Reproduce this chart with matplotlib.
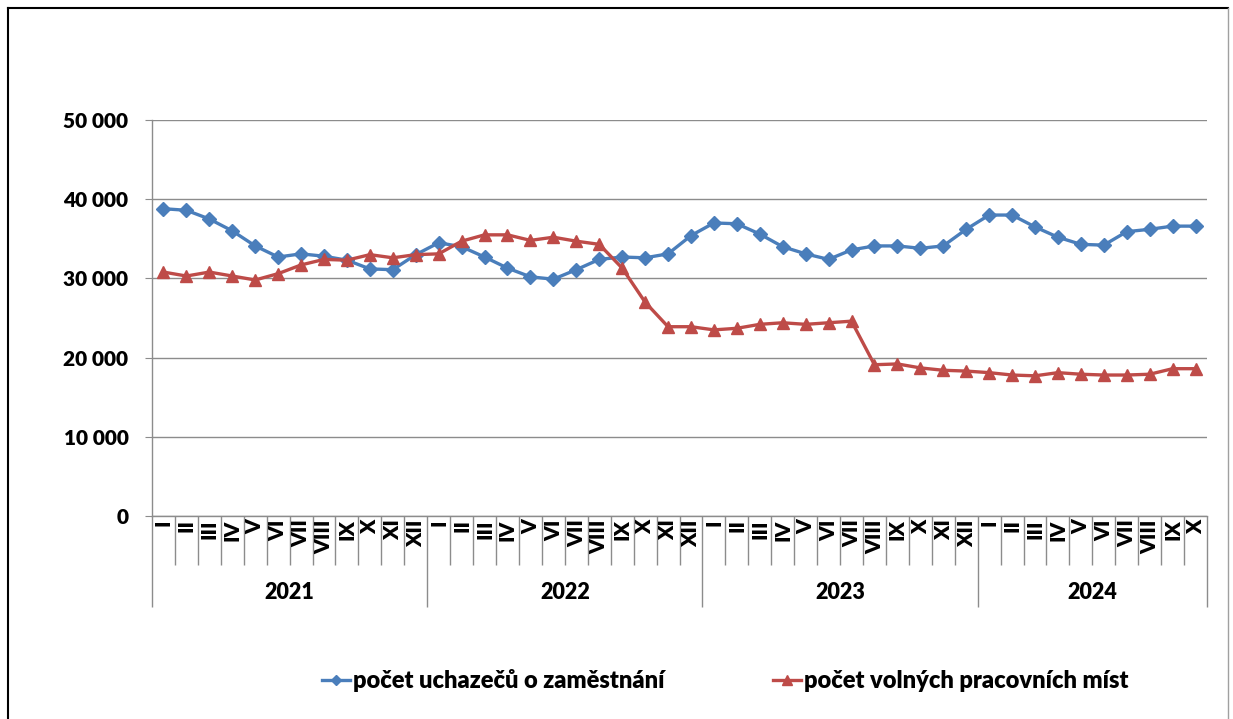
import matplotlib
matplotlib.use("Agg")
import matplotlib.pyplot as plt
from matplotlib.lines import Line2D
from matplotlib.ticker import FuncFormatter, FixedLocator
import numpy as np

plt.rcParams['font.family'] = ['Lato', 'DejaVu Sans']

years = ["2021", "2022", "2023", "2024"]
months_per_year = [12, 12, 12, 10]
month_names = ["I", "II", "III", "IV", "V", "VI", "VII", "VIII", "IX", "X", "XI", "XII"]

uchazeci = [38800, 38600, 37500, 36000, 34100, 32700, 33100, 32800, 32300, 31200, 31100, 33000,
            34500, 34000, 32700, 31300, 30200, 29900, 31100, 32400, 32700, 32600, 33100, 35400,
            37000, 36900, 35600, 34000, 33100, 32400, 33600, 34100, 34100, 33800, 34100, 36200,
            38000, 38000, 36500, 35200, 34300, 34200, 35900, 36200, 36600, 36600]
volna_mista = [30800, 30300, 30800, 30300, 29800, 30600, 31700, 32400, 32300, 33000, 32600, 33000,
               33100, 34700, 35500, 35500, 34800, 35200, 34700, 34300, 31300, 27000, 23900, 23900,
               23500, 23700, 24200, 24400, 24200, 24400, 24600, 19100, 19200, 18700, 18400, 18300,
               18100, 17800, 17700, 18100, 17900, 17800, 17800, 17900, 18600, 18600]

labels_series = ["počet uchazečů o zaměstnání", "počet volných pracovních míst"]

blue = "#4A7EBB"
red = "#BE4B48"
grey = "#8C8C8C"
W = 'heavy'

fig = plt.figure(figsize=(12.33, 7.19), dpi=100)
ax = fig.add_axes([152/1233, 1-516/719, (1207-152)/1233, (516-120)/719])

n = len(uchazeci)
x = np.arange(n)
ax.plot(x, uchazeci, color=blue, lw=2.4, marker='D', markersize=7, label=labels_series[0])
ax.plot(x, volna_mista, color=red, lw=2.4, marker='^', markersize=9, label=labels_series[1])

ax.set_xlim(-0.5, n - 0.5)
ax.set_ylim(0, 50000)
ax.set_yticks(np.arange(0, 50001, 10000))
ax.yaxis.set_major_formatter(FuncFormatter(lambda v, p: f"{int(v):,}".replace(",", " ")))
for lab in ax.get_yticklabels():
    lab.set_fontweight(W)
ax.tick_params(axis='y', length=5, color=grey, labelsize=15, pad=12)
ax.yaxis.grid(True, color=grey, lw=1)
ax.set_axisbelow(True)
for s in ['top', 'right']:
    ax.spines[s].set_visible(False)
for s in ['left', 'bottom']:
    ax.spines[s].set_color(grey)
    ax.spines[s].set_linewidth(1)

# x ticks: boundaries
bounds_year = [-0.5]
acc = -0.5
for m in months_per_year:
    acc += m
    bounds_year.append(acc)
ax.xaxis.set_major_locator(FixedLocator(bounds_year))
ax.xaxis.set_minor_locator(FixedLocator(np.arange(-0.5, n, 1.0)))
ax.tick_params(axis='x', which='major', length=65.5, color=grey, width=1, labelbottom=False)
ax.tick_params(axis='x', which='minor', length=35, color=grey, width=1)
ax.set_xticklabels([])

# month labels
i = 0
for yi, m in enumerate(months_per_year):
    for k in range(m):
        ax.text(i, -0.008, month_names[k], transform=ax.get_xaxis_transform(),
                rotation=90, ha='center', va='top', fontsize=15, fontweight=W)
        i += 1
    center = (bounds_year[yi] + bounds_year[yi + 1]) / 2
    ax.text(center, -0.192, years[yi], transform=ax.get_xaxis_transform(),
            ha='center', va='center', fontsize=15.5, fontweight=W)

fig.legend(loc='center', bbox_to_anchor=(0.588, 0.053), ncol=2, frameon=False,
           prop={'weight': W, 'size': 17}, handlelength=1.2, handletextpad=0.1,
           columnspacing=4.6, markerscale=0.8)

# outer border
fig.add_artist(Line2D([8/1233, 8/1233], [0, 1-8/719], transform=fig.transFigure, color='black', lw=1.5))
fig.add_artist(Line2D([8/1233, 1228/1233], [1-8/719, 1-8/719], transform=fig.transFigure, color='black', lw=1.5))
fig.add_artist(Line2D([1228/1233, 1228/1233], [0, 1-8/719], transform=fig.transFigure, color='#A0A0A0', lw=1))

fig.savefig("out.png", dpi=100)
